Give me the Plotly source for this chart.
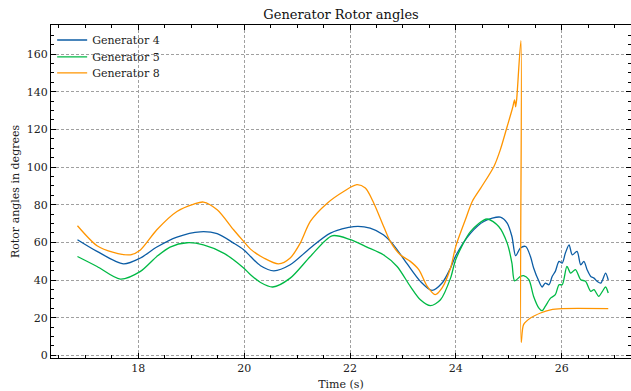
import plotly.graph_objects as go

# Generator 4 (blue)
t4 = [16.85, 17.22, 17.72, 18.04, 18.35, 18.73, 19.17, 19.49, 19.80, 19.99, 20.12, 20.31, 20.56, 20.87,
      21.25, 21.63, 22.07, 22.38, 22.63, 22.82, 23.07, 23.33, 23.55, 23.74, 23.90, 24.00, 24.28, 24.53,
      24.84, 24.97, 25.06, 25.13, 25.22, 25.32, 25.41, 25.47, 25.57, 25.63, 25.69, 25.76, 25.82, 25.88,
      25.95, 26.01, 26.07, 26.14, 26.20, 26.29, 26.36, 26.42, 26.48, 26.55, 26.61, 26.67, 26.74, 26.83, 26.88]
g4 = [61.4, 55.2, 48.6, 51.7, 57.5, 62.8, 65.6, 64.6, 59.6, 56.1, 52.5, 47.6, 44.9, 48.1,
      57.0, 64.9, 68.4, 67.6, 64.0, 58.7, 49.0, 39.3, 34.5, 38.4, 46.4, 53.0, 64.9, 71.1,
      73.4, 70.2, 63.1, 52.9, 57.0, 57.8, 52.5, 46.4, 39.3, 36.3, 38.4, 37.5, 41.9, 44.6,
      49.9, 49.0, 54.3, 58.7, 53.4, 55.2, 48.1, 49.9, 45.5, 41.9, 41.0, 39.3, 38.4, 43.7, 40.0]

# Generator 5 (green)
t5 = [16.85, 17.22, 17.66, 18.04, 18.35, 18.60, 18.92, 19.23, 19.61, 19.99, 20.12, 20.31, 20.54, 20.87,
      21.25, 21.66, 22.01, 22.32, 22.63, 22.89, 23.14, 23.33, 23.52, 23.71, 23.90, 24.00, 24.28, 24.59,
      24.81, 24.97, 25.06, 25.11, 25.22, 25.28, 25.38, 25.47, 25.57, 25.63, 25.69, 25.79, 25.88, 25.95,
      26.01, 26.10, 26.17, 26.26, 26.36, 26.45, 26.55, 26.61, 26.70, 26.77, 26.83, 26.88]
g5 = [52.5, 47.2, 40.5, 44.6, 52.5, 57.5, 59.8, 58.7, 54.3, 46.4, 42.8, 38.7, 36.3, 41.0,
      52.5, 63.5, 61.4, 57.5, 53.4, 47.2, 36.6, 29.5, 26.4, 29.5, 41.0, 51.0, 65.8, 72.4,
      68.4, 59.6, 49.0, 39.6, 41.9, 42.3, 40.2, 31.3, 25.1, 23.7, 26.0, 30.4, 32.2, 37.5,
      37.5, 47.2, 43.7, 45.5, 40.2, 39.3, 34.0, 34.9, 31.3, 34.0, 36.3, 33.1]

# Generator 8 (orange)
t8 = [16.85, 17.22, 17.53, 17.85, 18.04, 18.35, 18.73, 19.05, 19.23, 19.49, 19.80, 19.99, 20.12, 20.37,
      20.65, 20.87, 21.06, 21.25, 21.57, 21.88, 22.13, 22.29, 22.45, 22.61, 22.76, 22.95, 23.14, 23.30,
      23.46, 23.61, 23.74, 23.90, 24.00, 24.18, 24.31, 24.47, 24.72, 24.84, 24.97, 25.07, 25.11, 25.13,
      25.15, 25.23, 25.235, 25.28, 25.41, 25.60, 25.79, 26.01, 26.88]
g8 = [68.8, 58.2, 54.7, 53.4, 56.0, 66.7, 76.4, 80.3, 81.4, 77.3, 66.7, 60.5, 56.4, 51.7,
      48.6, 51.7, 59.6, 71.1, 80.8, 87.0, 90.6, 88.8, 80.8, 70.2, 60.5, 53.4, 49.9, 45.5,
      36.6, 32.2, 35.8, 46.4, 58.0, 72.0, 81.7, 88.8, 100.3, 109.1, 121.5, 131.2, 135.6, 132.0,
      136.0, 167.1, 6.9, 16.3, 19.8, 22.5, 24.2, 24.8, 24.8]

x_ticks = [18, 20, 22, 24, 26]
y_ticks = [0, 20, 40, 60, 80, 100, 120, 140, 160]

FONT = "DejaVu Serif"

fig = go.Figure()
series = [("Generator 4", t4, g4, "#0C5DA5", "legend"),
          ("Generator 5", t5, g5, "#00B945", "legend2"),
          ("Generator 8", t8, g8, "#FF9500", "legend3")]
for name, t, v, c, lg in series:
    fig.add_trace(go.Scatter(x=t, y=v, mode="lines", name=name, legend=lg,
                             line=dict(color=c, width=1.3, shape="spline", smoothing=0.8)))

axis_common = dict(
    automargin=False,
    showline=True, linecolor="black", linewidth=1, mirror="ticks",
    ticks="inside", ticklen=5, tickwidth=0.8, tickcolor="black",
    showgrid=True, gridcolor="#a0a0a0", gridwidth=0.7, griddash="3px,2px",
    zeroline=False, tickfont=dict(family=FONT, size=11, color="#222"),
)

fig.update_xaxes(**axis_common, range=[16.35, 27.31], tickvals=x_ticks,
                 minor=dict(dtick=0.5, ticks="inside", ticklen=3, tickcolor="black", showgrid=False),
                 title=dict(text="Time (s)", font=dict(family=FONT, size=11, color="#222")))
fig.update_yaxes(**axis_common, range=[-1.4, 175.4], tickvals=y_ticks,
                 minor=dict(dtick=5, ticks="inside", ticklen=3, tickcolor="black", showgrid=False),
                 title=dict(text="Rotor angles in degrees", standoff=4,
                            font=dict(family=FONT, size=11, color="#222")))

leg_common = dict(x=0.002, xanchor="left", yanchor="middle", bgcolor="rgba(0,0,0,0)",
                  font=dict(family=FONT, size=11, color="#222"), itemwidth=30)

fig.update_layout(
    width=631, height=391,
    margin=dict(l=51, r=0, t=25, b=33),
    font=dict(family=FONT, size=11, color="#222"),
    paper_bgcolor="white", plot_bgcolor="white",
    title=dict(text="Generator Rotor angles", x=0.5405, xanchor="center",
               yref="container", y=1 - 14 / 391, yanchor="middle",
               font=dict(family=FONT, size=13, color="#111")),
    legend=dict(**leg_common, y=0.955),
    legend2=dict(**leg_common, y=0.904),
    legend3=dict(**leg_common, y=0.856),
    showlegend=True,
)

fig.write_html("out.html", config={"displayModeBar": False},
               post_script="document.body.style.margin='0';document.body.style.padding='0';")
